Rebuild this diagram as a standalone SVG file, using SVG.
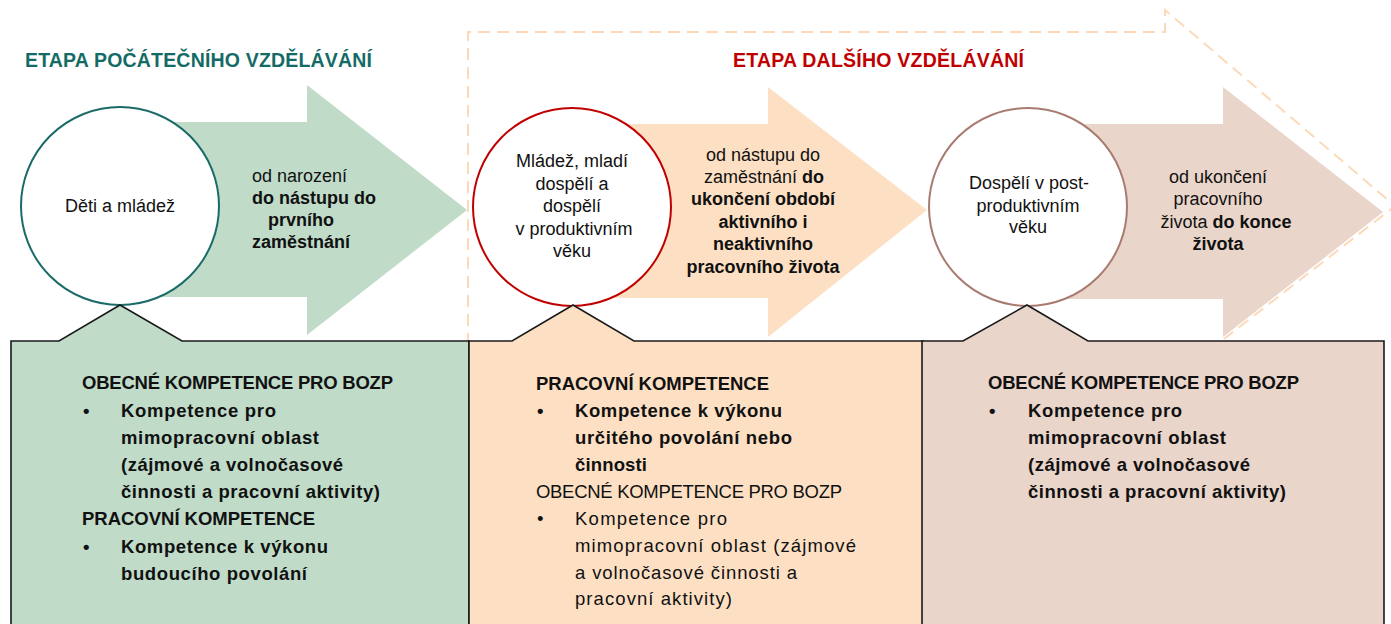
<svg xmlns="http://www.w3.org/2000/svg" width="1391" height="624" viewBox="0 0 1391 624">
<style>
text{font-family:"Liberation Sans",Arial,sans-serif;fill:#111}
.t{font-size:18px}
.b{font-weight:bold}
.c{text-anchor:middle}
.box{font-size:18.5px}
.title{font-size:19.5px;font-weight:bold}
.circ{fill:#fff;stroke-width:2}
.callout{stroke:#1a1a1a;stroke-width:1.6}
</style>
<rect width="1391" height="624" fill="#fff"/>
<g id="outline">
<path d="M468,345 L468,32 L1165,32 L1165,10 L1395,206 L1220,342" fill="none" stroke="#fcd9b8" stroke-width="2" stroke-dasharray="12,7"/>
</g>
<g id="titles">
<text class="title" x="25" y="67" style="fill:#146b66" textLength="347">ETAPA POČÁTEČNÍHO VZDĚLÁVÁNÍ</text>
<text class="title" x="733" y="67" style="fill:#c00000" textLength="291">ETAPA DALŠÍHO VZDĚLÁVÁNÍ</text>
</g>
<g id="stage1">
<path d="M120,122 L307,122 L307,85 L467,210 L307,335 L307,297 L120,297 Z" fill="#c0dcc9"/>
<circle class="circ" cx="120" cy="206" r="99" stroke="#1a6b68"/>
<text class="t c" x="120" y="212">Děti a mládež</text>
<text class="t" x="252" y="182">od narození</text>
<text class="t b" x="252" y="204">do nástupu do</text>
<text class="t b" x="268" y="226">prvního</text>
<text class="t b" x="252" y="248">zaměstnání</text>
</g>
<g id="stage2">
<path d="M572,124 L768,124 L768,87 L927,210 L768,337 L768,298 L572,298 Z" fill="#fde0c4"/>
<circle class="circ" cx="572" cy="207" r="99" stroke="#c00000"/>
<text class="t c" x="572" y="167">Mládež, mladí</text>
<text class="t c" x="572" y="190">dospělí a</text>
<text class="t c" x="572" y="212">dospělí</text>
<text class="t c" x="574" y="235">v produktivním</text>
<text class="t c" x="572" y="257">věku</text>
<text class="t c" x="763" y="161">od nástupu do</text>
<text class="t c" x="764" y="183">zaměstnání <tspan class="b">do</tspan></text>
<text class="t c b" x="763" y="205">ukončení období</text>
<text class="t c b" x="763" y="228">aktivního i</text>
<text class="t c b" x="763" y="250">neaktivního</text>
<text class="t c b" x="763" y="273">pracovního života</text>
</g>
<g id="stage3">
<path d="M1028,124 L1223,124 L1223,87 L1383,212 L1223,337 L1223,299 L1028,299 Z" fill="#ead5ca"/>
<circle class="circ" cx="1028" cy="207" r="99" stroke="#a87b70"/>
<text class="t c" x="1029" y="189">Dospělí v post-</text>
<text class="t c" x="1028" y="212">produktivním</text>
<text class="t c" x="1028" y="233">věku</text>
<text class="t c" x="1218" y="183">od ukončení</text>
<text class="t c" x="1218" y="205">pracovního</text>
<text class="t c" x="1226" y="228">života <tspan class="b">do konce</tspan></text>
<text class="t c b" x="1218" y="250">života</text>
</g>
<g id="box1">
<path class="callout" d="M11,640 L11,341 L59,341 L120,305 L182,341 L469,341 L469,640" fill="#c0dcc9"/>
<text class="box b" x="82" y="389" textLength="311">OBECNÉ KOMPETENCE PRO BOZP</text>
<text class="box b" x="83" y="417">•</text>
<text class="box b" x="121" y="417" textLength="155">Kompetence pro</text>
<text class="box b" x="121" y="444" textLength="198">mimopracovní oblast</text>
<text class="box b" x="121" y="471" textLength="222">(zájmové a volnočasové</text>
<text class="box b" x="121" y="498" textLength="259">činnosti a pracovní aktivity)</text>
<text class="box b" x="82" y="525" textLength="233">PRACOVNÍ KOMPETENCE</text>
<text class="box b" x="83" y="553">•</text>
<text class="box b" x="121" y="553" textLength="207">Kompetence k výkonu</text>
<text class="box b" x="121" y="580" textLength="186">budoucího povolání</text>
</g>
<g id="box2">
<path class="callout" d="M469,640 L469,341 L512,341 L573,305 L634,341 L923,341 L923,640" fill="#fde0c4"/>
<text class="box b" x="536" y="390" textLength="233">PRACOVNÍ KOMPETENCE</text>
<text class="box b" x="537" y="417">•</text>
<text class="box b" x="575" y="417" textLength="207">Kompetence k výkonu</text>
<text class="box b" x="575" y="444" textLength="217">určitého povolání nebo</text>
<text class="box b" x="575" y="471" textLength="72">činnosti</text>
<text class="box" x="536" y="498" textLength="306">OBECNÉ KOMPETENCE PRO BOZP</text>
<text class="box" x="537" y="525">•</text>
<text class="box" x="575" y="525" textLength="152">Kompetence pro</text>
<text class="box" x="575" y="552" textLength="281">mimopracovní oblast (zájmové</text>
<text class="box" x="575" y="579" textLength="222">a volnočasové činnosti a</text>
<text class="box" x="575" y="605" textLength="157">pracovní aktivity)</text>
</g>
<g id="box3">
<path class="callout" d="M922,640 L922,341 L963,341 L1027,305 L1088,341 L1384,341 L1384,640" fill="#ead5ca"/>
<text class="box b" x="988" y="389" textLength="311">OBECNÉ KOMPETENCE PRO BOZP</text>
<text class="box b" x="989" y="417">•</text>
<text class="box b" x="1028" y="417" textLength="154">Kompetence pro</text>
<text class="box b" x="1028" y="444" textLength="198">mimopracovní oblast</text>
<text class="box b" x="1028" y="471" textLength="222">(zájmové a volnočasové</text>
<text class="box b" x="1028" y="498" textLength="258">činnosti a pracovní aktivity)</text>
</g>
</svg>
